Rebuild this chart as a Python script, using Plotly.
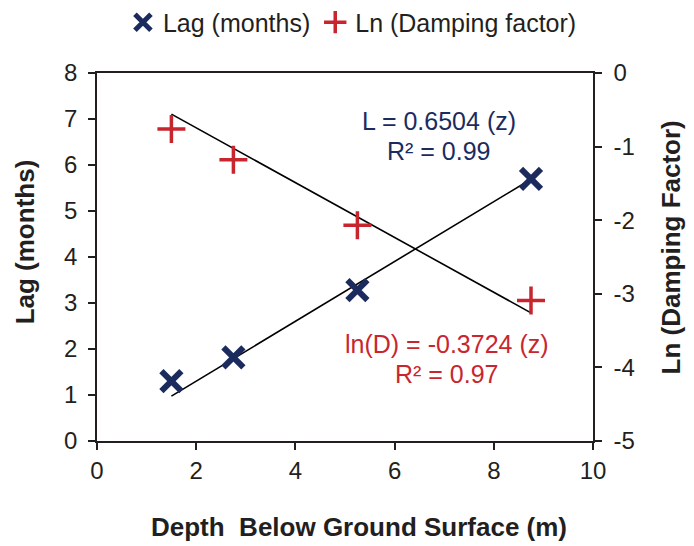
import plotly.graph_objects as go

# Data
depth = [1.5, 2.75, 5.25, 8.75]
lag_months = [1.3, 1.82, 3.28, 5.7]
ln_damping = [-0.76, -1.18, -2.07, -3.09]
lag_slope = 0.6504
ln_slope = -0.3724
fit_range = [1.5, 8.75]

x_ticks = [0, 2, 4, 6, 8, 10]
left_ticks = [0, 1, 2, 3, 4, 5, 6, 7, 8]
right_ticks = [0, -1, -2, -3, -4, -5]
right_tick_text = ["0", "-1", "-2", "-3", "-4", "-5"]

NAVY = "#1c2b5e"
RED = "#c8262e"
INK = "#231f20"
FONT = "Liberation Sans, Arial, Helvetica, sans-serif"

fig = go.Figure()

fig.add_trace(go.Scatter(
    x=fit_range, y=[lag_slope * v for v in fit_range], mode="lines",
    line=dict(color="black", width=1.6), showlegend=False, hoverinfo="skip"))
fig.add_trace(go.Scatter(
    x=fit_range, y=[ln_slope * v for v in fit_range], mode="lines", yaxis="y2",
    line=dict(color="black", width=1.6), showlegend=False, hoverinfo="skip"))

fig.add_trace(go.Scatter(
    x=depth, y=lag_months, mode="markers", name="Lag (months)",
    marker=dict(symbol="x-thin", size=20, line=dict(color=NAVY, width=6), color=NAVY)))
fig.add_trace(go.Scatter(
    x=depth, y=ln_damping, mode="markers", name="Ln (Damping factor)", yaxis="y2",
    marker=dict(symbol="cross-thin", size=20, line=dict(color=RED, width=3.5), color=RED)))

axis_common = dict(showline=True, linecolor=INK, linewidth=1.6, ticks="outside",
                   ticklen=7, tickwidth=1.6, tickcolor=INK, showgrid=False,
                   zeroline=False, automargin=False,
                   tickfont=dict(size=24, color=INK, family=FONT))

# page body has an 8px margin, so the figure is sized/positioned to compensate
fig.update_layout(
    width=686, height=538,
    margin=dict(l=89, r=101, t=65, b=105, autoexpand=False),
    plot_bgcolor="white", paper_bgcolor="white",
    font=dict(family=FONT, color=INK),
    xaxis=dict(range=[0, 10], tickvals=x_ticks, mirror=True, **axis_common),
    yaxis=dict(range=[0, 8], tickvals=left_ticks, ticklabelstandoff=6, **axis_common),
    yaxis2=dict(range=[-5, 0], tickvals=right_ticks, ticktext=right_tick_text,
                ticklabelstandoff=7, overlaying="y", side="right", **axis_common),
    legend=dict(orientation="h", x=0.515, xanchor="center", y=1.2, yanchor="top",
                font=dict(size=25, color=INK), itemwidth=30, tracegroupgap=0,
                bgcolor="rgba(0,0,0,0)"),
    showlegend=True,
)

ann = dict(showarrow=False, xanchor="center", yanchor="middle")

# axis titles
fig.add_annotation(xref="paper", yref="paper", x=0.528, y=-0.234,
                   text="<b>Depth  Below Ground Surface (m)</b>",
                   font=dict(size=26, color=INK), **ann)
fig.add_annotation(xref="paper", yref="paper", x=-0.145, y=0.54, textangle=-90,
                   text="<b>Lag (months)</b>",
                   font=dict(size=26, color=INK), **ann)
fig.add_annotation(xref="paper", yref="paper", x=1.158, y=0.527, textangle=-90,
                   text="<b>Ln (Damping Factor)</b>",
                   font=dict(size=26, color=INK), **ann)

# fit equations
fig.add_annotation(x=6.895, y=6.95, text="L = 0.6504 (z)",
                   font=dict(size=25, color=NAVY), **ann)
fig.add_annotation(x=6.895, y=6.3, text="R² = 0.99",
                   font=dict(size=25, color=NAVY), **ann)
fig.add_annotation(x=7.056, y=2.1, text="ln(D) = -0.3724 (z)",
                   font=dict(size=25, color=RED), **ann)
fig.add_annotation(x=7.056, y=1.45, text="R² = 0.97",
                   font=dict(size=25, color=RED), **ann)

fig.write_html("out.html")
